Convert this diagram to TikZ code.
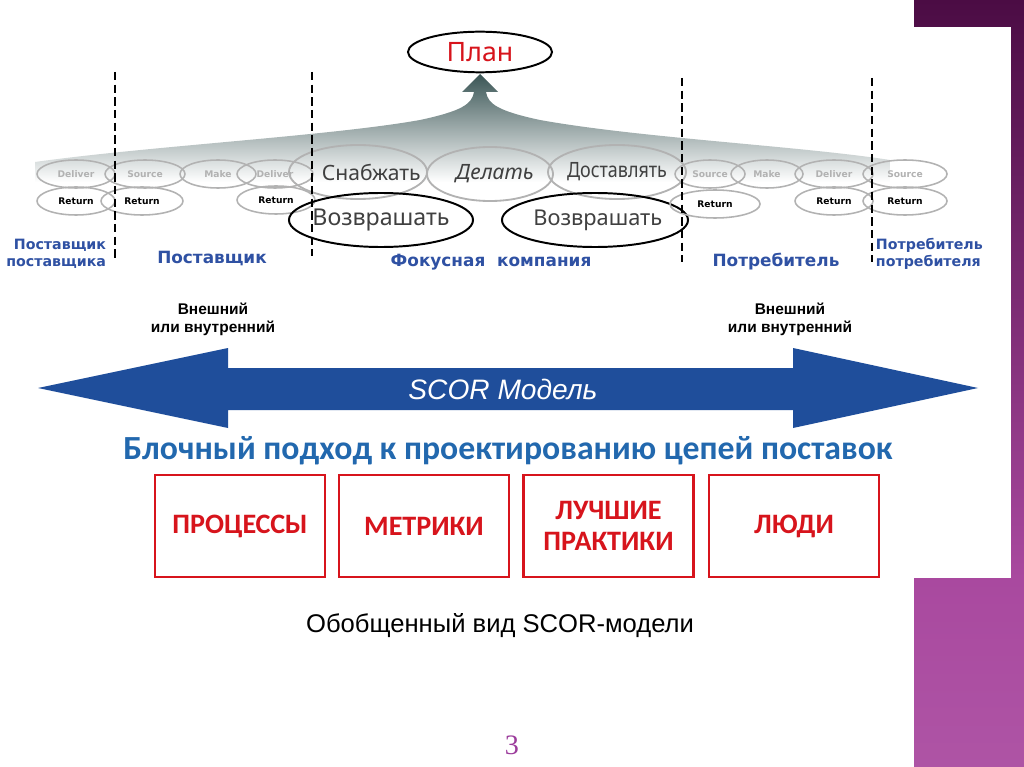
\documentclass[tikz,border=0pt]{standalone}
\usepackage{fontspec}
\setmainfont{Liberation Sans}
\newfontfamily\dvs{DejaVu Sans}
\newfontfamily\nts{Noto Sans}
\newfontfamily\clt{Carlito}
\newfontfamily\lsf{Liberation Serif}
\usetikzlibrary{shapes.geometric, positioning}
\definecolor{plumdark}{HTML}{4B0C44}
\definecolor{plumlight}{HTML}{A9499F}
\definecolor{lblblue}{HTML}{2F51A3}
\definecolor{scorblue}{HTML}{1F4E9B}
\definecolor{headblue}{HTML}{2268AE}
\definecolor{boxred}{HTML}{D7141C}
\definecolor{slate}{HTML}{3A5555}
\definecolor{opgray}{HTML}{B2B2B2}
\definecolor{pagenum}{HTML}{9C3C9C}

\begin{document}
\begin{tikzpicture}[x=0.025cm, y=-0.025cm,
    sop/.style={ellipse, draw=opgray, line width=1.1pt, inner sep=0pt,
      minimum height=0.7cm, font=\dvs\bfseries\fontsize{6.5}{7}\selectfont, text=opgray},
    ret/.style={sop, text=black},
    bigop/.style={ellipse, draw=opgray, line width=1.3pt, inner sep=0pt,
      minimum height=1.35cm},
    optxt/.style={font=\nts\fontsize{15}{16}\selectfont, text=black!75},
    retbig/.style={bigop, draw=black, line width=1.4pt},
    party/.style={font=\dvs\bfseries\fontsize{12}{12}\selectfont, text=lblblue},
    partysm/.style={party, font=\dvs\bfseries\fontsize{10.1}{12}\selectfont},
    extint/.style={align=center, font=\bfseries\fontsize{11}{13}\selectfont},
    sep/.style={line width=1pt, dash pattern=on 6pt off 3pt},
    block/.style={rectangle, draw=boxred, line width=1.7pt, minimum width=4.25cm,
      minimum height=2.55cm, align=center, text=boxred,
      font=\clt\bfseries\fontsize{20}{22.5}\selectfont}]

\useasboundingbox (0,0) rectangle (1024,767);
\fill[white] (0,0) rectangle (1024,767);
\shade[top color=plumdark, bottom color=plumlight] (914,0) rectangle (1024,578);
\shade[top color=plumlight, bottom color=plumlight!94!white] (914,578) rectangle (1024,767);
\fill[white] (0,27) rectangle (1011,578);

% plan arrow
\shade[top color=slate, bottom color=white]
  (35,162) .. controls (150,146) and (330,136) .. (420,120)
  .. controls (462,111) and (472,104) .. (474,92) -- (462,92) -- (480,74)
  -- (498,92) -- (486,92) .. controls (488,104) and (498,111) .. (540,120)
  .. controls (640,138) and (800,146) .. (890,160) -- (890,182) -- (35,182) -- cycle;

\node[ellipse, draw, line width=1.4pt, minimum width=3.6cm, minimum height=0.95cm,
  font=\nts\fontsize{19}{20}\selectfont, text=boxred] (plan) at (480,52) {План};

% process ellipses
\node[sop, minimum width=1.95cm] (dl1) at (76,174) {Deliver};
\node[sop, minimum width=2cm] (sr1) at (145,174) {Source};
\node[sop, minimum width=1.9cm] (mk1) at (218,174) {Make};
\node[sop, minimum width=1.9cm] (dl2) at (275,174) {Deliver};
\node[ret, minimum width=1.95cm] (rt1) at (76,201) {Return};
\node[ret, minimum width=2.05cm] (rt2) at (142,201) {Return};
\node[ret, minimum width=1.95cm] (rt3) at (276,200) {Return};

\node[bigop, minimum width=3.45cm, label={[optxt, xshift=0.33cm]center:Снабжать}] (src) at (358,172) {};
\node[bigop, minimum width=3.15cm, label={[optxt, xshift=0.12cm]center:\itshape Делать}] (mak) at (490,174) {};
\node[bigop, minimum width=3.45cm, label={[optxt]center:\scalebox{0.85}[1]{Доставлять}}] (dlv) at (617,172) {};
\node[retbig, minimum width=4.6cm, label={[optxt, font=\nts\fontsize{16.5}{17}\selectfont]center:Возврашать}] (rtl) at (381,220) {};
\node[retbig, minimum width=4.65cm, label={[optxt, font=\nts\fontsize{15.5}{17}\selectfont, xshift=0.07cm]center:Возврашать}] (rtr) at (595,220) {};

\node[sop, minimum width=1.75cm] (sr2) at (710,174) {Source};
\node[sop, minimum width=1.8cm] (mk2) at (767,174) {Make};
\node[sop, minimum width=1.95cm] (dl3) at (834,174) {Deliver};
\node[sop, minimum width=2.1cm] (sr3) at (905,174) {Source};
\node[ret, minimum width=2.25cm] (rt4) at (715,204) {Return};
\node[ret, minimum width=1.95cm] (rt5) at (834,201) {Return};
\node[ret, minimum width=2.1cm] (rt6) at (905,201) {Return};

% boundaries
\draw[sep] (115,72) -- (115,258);
\draw[sep] (312,72) -- (312,256);
\draw[sep] (682,78) -- (682,262);
\draw[sep] (872,78) -- (872,262);

\node[partysm, align=right, anchor=east] (ss) at (111,254) {Поставщик\\поставщика};
\node[party] (sup) at (212,259) {Поставщик};
\node[party] (foc) at (491,262) {Фокусная\ \ компания};
\node[party] (cus) at (776,262) {Потребитель};
\node[partysm, align=left, anchor=west] (cc) at (871,254) {Потребитель\\потребителя};

\node[extint] (exl) at (213,319) {Внешний\\или внутренний};
\node[extint] (exr) at (790,319) {Внешний\\или внутренний};

% SCOR arrow
\fill[scorblue] (38,388) -- (228,348) -- (228,368) -- (793,368) -- (793,348)
  -- (978,388) -- (793,428) -- (793,410) -- (228,410) -- (228,428) -- cycle;
\node[text=white, font=\itshape\fontsize{20}{22}\selectfont] (scor) at (503,389) {SCOR Модель};

\node[text=headblue, font=\clt\bfseries\fontsize{24}{26}\selectfont] (head) at (508,451)
  {Блочный подход к проектированию цепей поставок};

\node[block] (b1) at (240,526) {ПРОЦЕССЫ};
\node[block] (b2) at (424,526) {МЕТРИКИ};
\node[block] (b3) at (608.5,526) {ЛУЧШИЕ\\ПРАКТИКИ};
\node[block] (b4) at (794,526) {ЛЮДИ};

\node[font=\fontsize{18.2}{20}\selectfont] (cap) at (500,626) {Обобщенный вид SCOR-модели};
\node[text=pagenum, font=\lsf\fontsize{20}{22}\selectfont] (pg) at (512,745) {3};
\end{tikzpicture}
\end{document}
